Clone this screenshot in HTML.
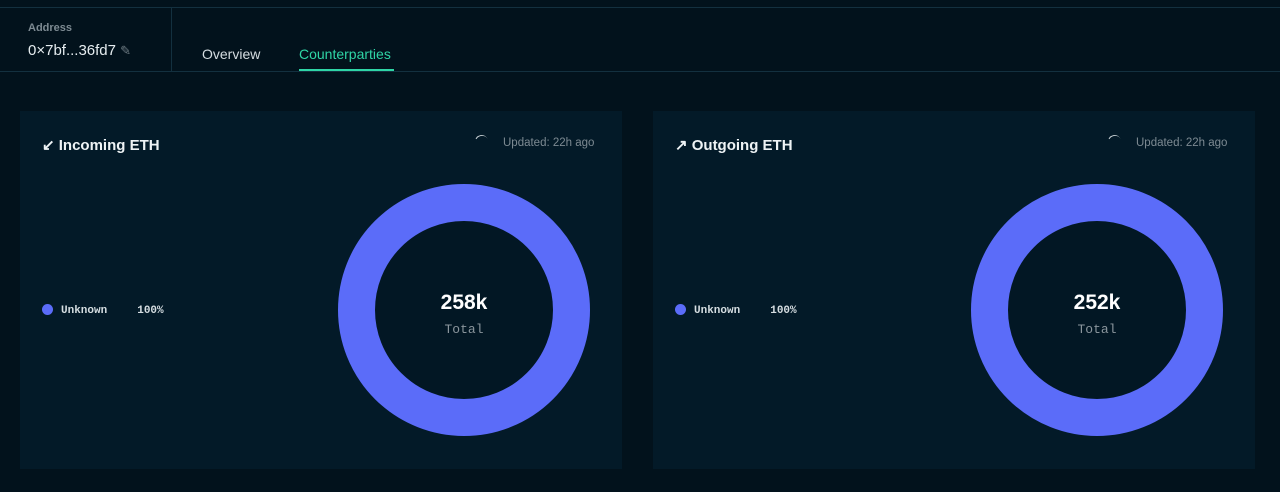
<!DOCTYPE html>
<html><head><style>
body{margin:0;width:1280px;height:492px;background:#02121c;font-family:"Liberation Sans",sans-serif;position:relative;overflow:hidden;color:#e6edf0}
.abs{position:absolute}
.card{position:absolute;top:111px;width:602px;height:358px;background:#031a28}
.title{position:absolute;left:22px;top:25px;font-size:15px;font-weight:bold;color:#eef3f5}
.upd{position:absolute;left:483px;top:26px;font-size:11.5px;color:#7d8a92}
.spin{position:absolute;left:455px;top:24px;width:12px;height:12px;border-radius:50%;border-top:1.5px solid #c8d0d4;border-left:1.5px solid transparent;transform:rotate(-20deg)}
.leg{position:absolute;left:22px;top:193px;font-family:"Liberation Mono",monospace;font-size:11px;font-weight:bold;color:#d5dde1}
.dot{display:inline-block;width:11px;height:11px;border-radius:50%;background:#5b6cf9;vertical-align:-2px;margin-right:8px}
.ring{position:absolute;left:318px;top:73px;width:178px;height:178px;border-radius:50%;border:37px solid #5b6cf9;background:#021724}
.num{position:absolute;left:0;width:178px;top:70px;text-align:center;font-size:21px;font-weight:bold;color:#fff}
.tot{position:absolute;left:0;width:178px;top:101px;text-align:center;font-family:"Liberation Mono",monospace;font-size:13px;color:#8a959c}
</style></head><body>
<div class="abs" style="left:0;top:7px;width:1280px;height:1px;background:#13303f"></div>
<div class="abs" style="left:0;top:71px;width:1280px;height:1px;background:#13303f"></div>
<div class="abs" style="left:171px;top:8px;width:1px;height:63px;background:#13303f"></div>
<div class="abs" style="left:28px;top:22px;font-size:11px;font-weight:bold;color:#7d8a92">Address</div>
<div class="abs" style="left:28px;top:42px;font-size:15px;color:#e6edf0">0×7bf...36fd7 <span style="color:#6d7a82;font-size:13px">✎</span></div>
<div class="abs" style="left:202px;top:46px;font-size:14px;color:#d5dde1">Overview</div>
<div class="abs" style="left:299px;top:46px;font-size:14px;color:#2fd5a6">Counterparties</div>
<div class="abs" style="left:299px;top:69px;width:95px;height:2px;background:#2fd5a6"></div>

<div class="card" style="left:20px">
<div class="title">↙ Incoming ETH</div><div class="spin"></div><div class="upd">Updated: 22h ago</div>
<div class="leg"><span class="dot"></span>Unknown<span style="margin-left:30px">100%</span></div>
<div class="ring"><div class="num">258k</div><div class="tot">Total</div></div>
</div>
<div class="card" style="left:653px">
<div class="title">↗ Outgoing ETH</div><div class="spin"></div><div class="upd">Updated: 22h ago</div>
<div class="leg"><span class="dot"></span>Unknown<span style="margin-left:30px">100%</span></div>
<div class="ring"><div class="num">252k</div><div class="tot">Total</div></div>
</div>
</body></html>
